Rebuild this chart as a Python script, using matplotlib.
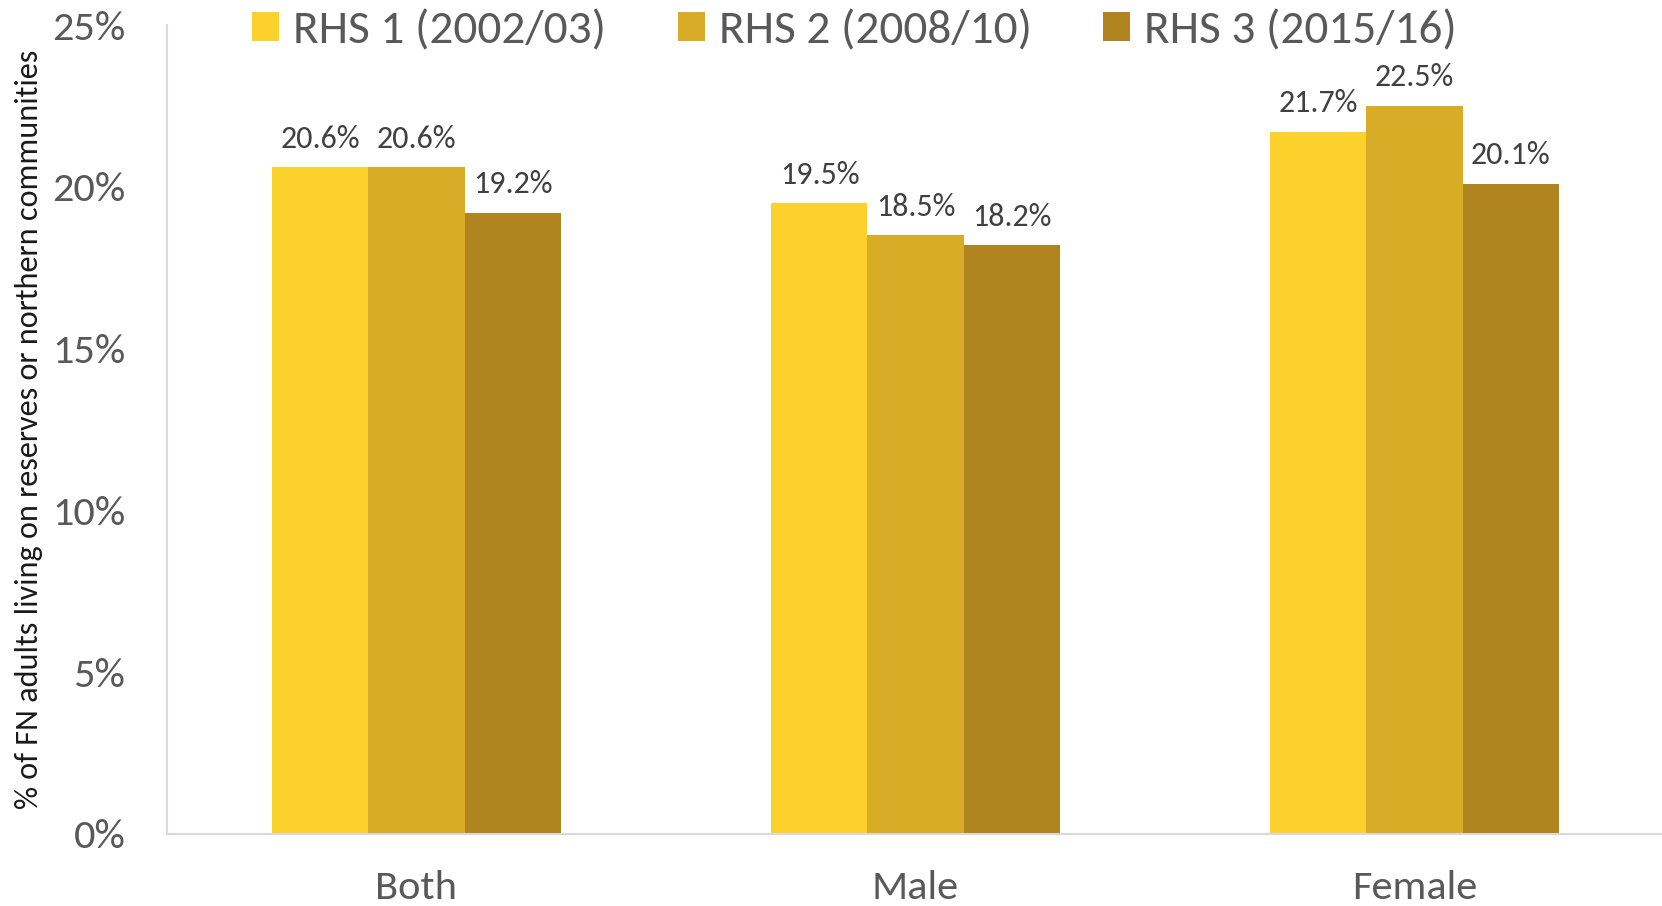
import matplotlib
matplotlib.use("Agg")
import matplotlib.pyplot as plt
from matplotlib.ticker import FuncFormatter
import numpy as np

plt.rcParams['font.family'] = ['Carlito', 'DejaVu Sans']

categories = ["Both", "Male", "Female"]
series_names = ["RHS 1 (2002/03)", "RHS 2 (2008/10)", "RHS 3 (2015/16)"]
rhs1 = [20.6, 19.5, 21.7]
rhs2 = [20.6, 18.5, 22.5]
rhs3 = [19.2, 18.2, 20.1]
colors = ["#FCD12C", "#D8AC27", "#B0841F"]
y_ticks = [0, 5, 10, 15, 20, 25]

W, H = 1662, 906
fig = plt.figure(figsize=(W / 100, H / 100), dpi=100)
ax = fig.add_axes([167 / W, 1 - 834 / H, 1497 / W, 809 / H])

x = np.arange(len(categories))
width = 0.1924
text_color = "#595959"

bar_groups = []
for i, (vals, name, c) in enumerate(zip([rhs1, rhs2, rhs3], series_names, colors)):
    pos = x + (i - 1) * width
    bars = ax.bar(pos, vals, width, color=c, label=name, edgecolor="none")
    bar_groups.append(bars)
    for xp, v in zip(pos, vals):
        ax.annotate(f"{v:.1f}%", (xp, v), xytext=(0, 14), textcoords="offset points",
                    ha="center", va="baseline", fontsize=23, color="#404040")

ax.set_xlim(-0.5, 2.5)
ax.set_ylim(0, 25)
ax.set_yticks(y_ticks)
ax.yaxis.set_major_formatter(FuncFormatter(lambda v, p: f"{v:.0f}%"))
ax.set_xticks(x)
ax.set_xticklabels(categories)
ax.tick_params(axis="y", length=0, labelsize=30.5, labelcolor=text_color, pad=30)
ax.tick_params(axis="x", length=0, labelsize=30.5, labelcolor=text_color, pad=26)

for s in ["top", "right"]:
    ax.spines[s].set_visible(False)
for s in ["left", "bottom"]:
    ax.spines[s].set_color("#D9D9D9")
    ax.spines[s].set_linewidth(1.5)

fig.text(29 / W, 1 - 429 / H,
         "% of FN adults living on reserves or northern communities",
         rotation=90, fontsize=23.2, color="#1a1a1a", ha="center", va="center")

# one legend entry per series, placed side by side along the top
legend_x = [252, 678, 1103]
for bars, name, lx in zip(bar_groups, series_names, legend_x):
    fig.legend(handles=[bars], labels=[name], loc="center left",
               bbox_to_anchor=(lx / W, 1 - 31 / H), frameon=False, fontsize=34,
               handlelength=0.57, handleheight=0.57, handletextpad=0.3,
               borderpad=0, borderaxespad=0, labelcolor=text_color)

fig.savefig("out.png", dpi=100)
